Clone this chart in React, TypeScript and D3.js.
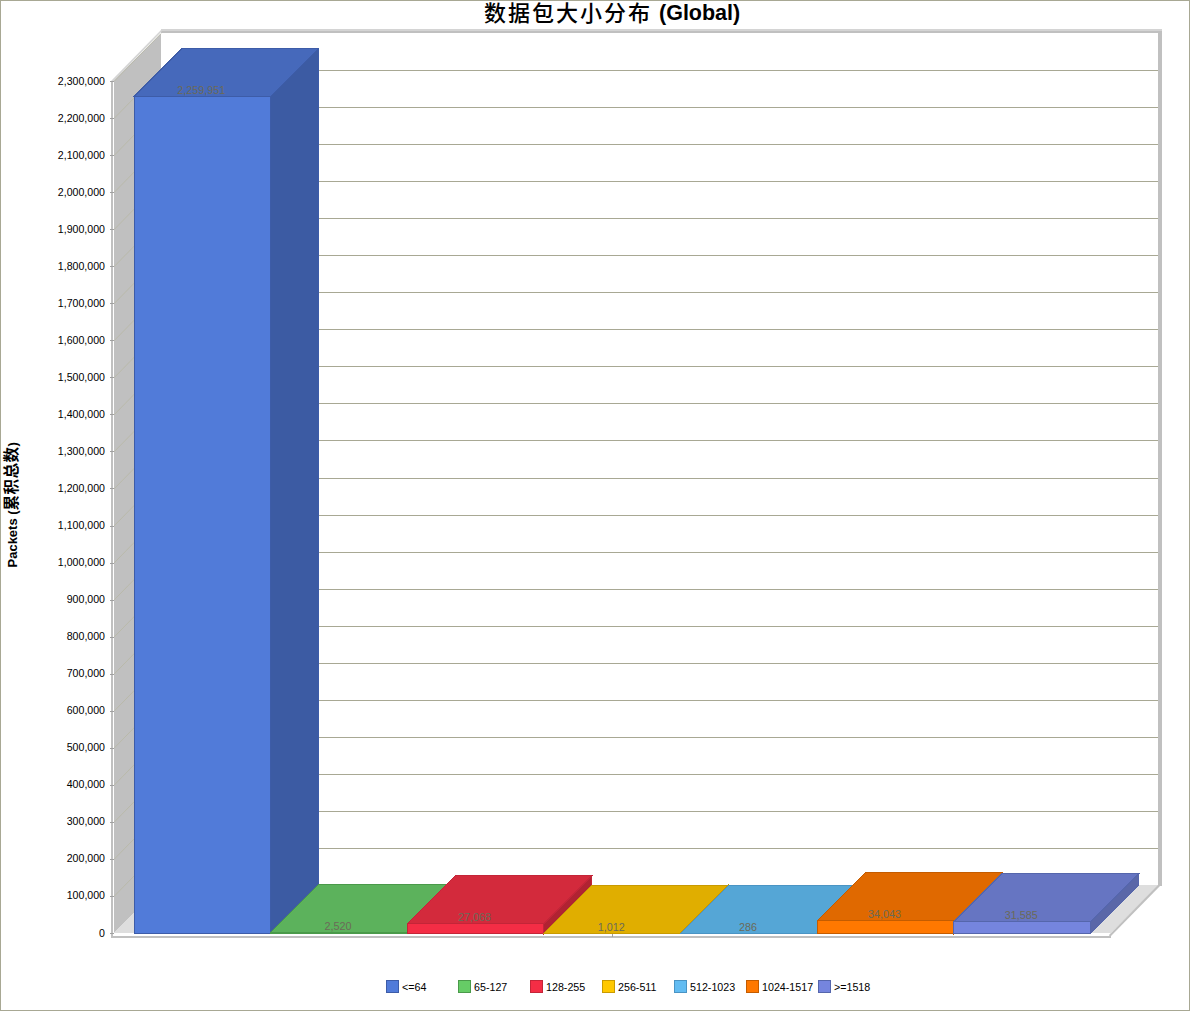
import React from "react";
import * as d3 from "d3";

const categories = ["<=64", "65-127", "128-255", "256-511", "512-1023", "1024-1517", ">=1518"];
const packetValues = [2259951, 2520, 27068, 1012, 286, 34043, 31585];
const yTickValues = [0, 100000, 200000, 300000, 400000, 500000, 600000, 700000, 800000, 900000, 1000000, 1100000, 1200000, 1300000, 1400000, 1500000, 1600000, 1700000, 1800000, 1900000, 2000000, 2100000, 2200000, 2300000];
const titleCjk = "数据包大小分布";
const titleLatin = "(Global)";
const yTitleLatin = "Packets (";
const yTitleCjk = "累积总数";

const frontColors = ["#517bd9", "#66cc66", "#f42d45", "#ffc800", "#62bcf2", "#ff7800", "#7585de"];
const topColors = ["#4669bb", "#5cb25c", "#d32a3c", "#e0ae00", "#55a6d6", "#e06900", "#6675c2"];
const sideColors = ["#3c5ba3", "#4f9a4f", "#b02332", "#c29600", "#4a90ba", "#c25b00", "#5a67a8"];
const edgeColors = ["#3d5ca8", "#4a9a4a", "#c42538", "#c99a00", "#4a94c4", "#c45c00", "#5566ac"];

const DEPTH = 48;
const SANS = "'Liberation Sans', Arial, 'Noto Sans CJK SC', sans-serif";
const CJK = "'Noto Sans CJK SC', sans-serif";

const y = d3.scaleLinear().domain([0, 2300000]).range([933.5, 81.5]);
const x = d3.scaleBand<string>().domain(categories).range([134, 1090.5]).paddingInner(0).paddingOuter(0);
const fmt = d3.format(",");
const pts = (a: [number, number][]) => a.map((p) => p.join(",")).join(" ");
const crisp = (v: number) => Math.floor(v) + 0.5;

const legendX = d3.scalePoint<string>().domain(categories).range([386, 818]);

export default function App() {
  const base = y(0);
  const left = 114, right = 1110;
  return (
    <svg width={1190} height={1011} style={{ position: "absolute", left: 0, top: 0, background: "#fff" }}>
      <rect x={0.5} y={0.5} width={1189} height={1010} fill="#fff" stroke="#a8a894" />

      {/* walls */}
      <g shapeRendering="crispEdges">
        <polygon points={pts([[left, 81], [161, 33], [161, 885], [left, 933]])} fill="#c0c0c0" />
        <polygon points={pts([[left, 933], [161, 885], [1158, 885], [right, 933]])} fill="#dedede" />
        <rect x={161} y={33} width={997} height={852} fill="#fff" />
        <rect x={1158} y={29} width={4} height={857} fill="#c0c0c0" />
        <rect x={161} y={29} width={1001} height={2} fill="#d4d4d4" />
        <rect x={161} y={31} width={1001} height={2} fill="#c0c0c0" />
      </g>
      <polygon points={pts([[111, 81], [161, 30], [163, 30], [114, 81]])} fill="#d4d4d4" />
      <polygon points={pts([[right, 937], [1161, 885], [1158, 885], [right - 1, 935]])} fill="#c0c0c0" />
      <g shapeRendering="crispEdges">
        <rect x={111} y={81} width={1.5} height={856} fill="#c0c0c0" />
        <rect x={111} y={936} width={1000} height={1.5} fill="#c0c0c0" />
      </g>

      {/* gridlines */}
      {yTickValues.slice(1).map((t) => {
        const py = y(t);
        return (
          <g key={t}>
            {t < 2300000 && (
              <line x1={161} x2={1158} y1={crisp(py - DEPTH)} y2={crisp(py - DEPTH)} stroke="#a8a894" shapeRendering="crispEdges" />
            )}
            <line x1={left} x2={161} y1={py} y2={py - DEPTH} stroke="#b8b8a4" strokeWidth={0.8} />
          </g>
        );
      })}

      {/* axis ticks and labels */}
      {yTickValues.map((t) => (
        <g key={t}>
          <line x1={110} x2={114} y1={crisp(y(t))} y2={crisp(y(t))} stroke="#a0a0a0" shapeRendering="crispEdges" />
          <text x={105} y={y(t) + 3} textAnchor="end" fontFamily={SANS} fontSize={10.6} fill="#000">
            {fmt(t)}
          </text>
        </g>
      ))}
      <line x1={612.5} x2={612.5} y1={933} y2={937} stroke="#a0a0a0" shapeRendering="crispEdges" />

      {/* bars */}
      {categories.map((c, i) => {
        const x0 = x(c)!;
        const x1 = x0 + x.bandwidth();
        const t = y(packetValues[i]);
        return (
          <g key={c} shapeRendering="crispEdges" stroke={edgeColors[i]} strokeWidth={1}>
            <polygon points={pts([[x1, t], [x1 + DEPTH, t - DEPTH], [x1 + DEPTH, base - DEPTH], [x1, base]])} fill={sideColors[i]} />
            <polygon points={pts([[x0, t], [x0 + DEPTH, t - DEPTH], [x1 + DEPTH, t - DEPTH], [x1, t]])} fill={topColors[i]} />
            <rect x={x0} y={t} width={x1 - x0} height={base - t} fill={frontColors[i]} />
          </g>
        );
      })}
      {categories.map((c, i) => (
        <text key={c} x={x(c)! + x.bandwidth() / 2 - 1} y={y(packetValues[i]) - 2.5} textAnchor="middle" fontFamily={SANS} fontSize={10.8} fill="#6b6a58">
          {fmt(packetValues[i])}
        </text>
      ))}

      {/* titles */}
      <text x={484} y={21} fontFamily={CJK} fontSize={22} letterSpacing={2} fontWeight={500}>{titleCjk}</text>
      <text x={659} y={20} fontFamily={SANS} fontWeight="bold" fontSize={21.5}>{titleLatin}</text>
      <text transform="translate(17,567.5) rotate(-90)" fontFamily={SANS} fontWeight="bold" fontSize={13}>
        <tspan>{yTitleLatin}</tspan>
        <tspan fontFamily={CJK} fontSize={15.5} letterSpacing={0.5}>{yTitleCjk}</tspan>
        <tspan>)</tspan>
      </text>

      {/* legend */}
      {categories.map((c, i) => (
        <g key={c}>
          <rect x={legendX(c)! + 0.5} y={980.5} width={12} height={12} fill={frontColors[i]} stroke={edgeColors[i]} shapeRendering="crispEdges" />
          <text x={legendX(c)! + 16} y={991} fontFamily={SANS} fontSize={10.7} fill="#000">{c}</text>
        </g>
      ))}
    </svg>
  );
}
